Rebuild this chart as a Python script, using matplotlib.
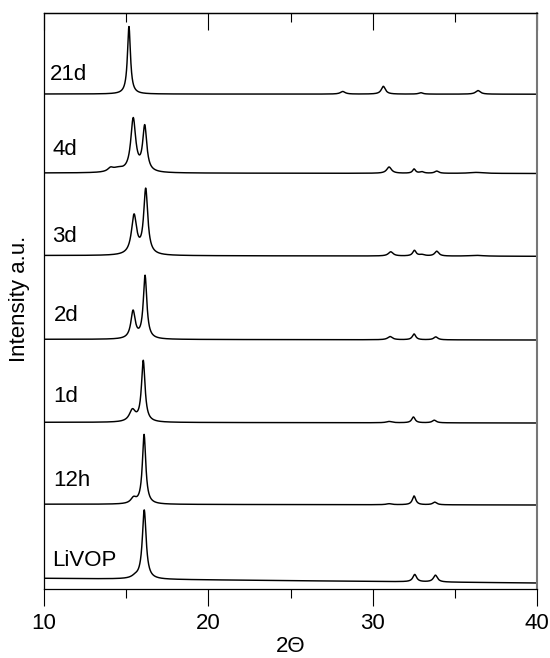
import numpy as np
import matplotlib
matplotlib.use("Agg")
import matplotlib.pyplot as plt
from matplotlib.ticker import MultipleLocator

plt.rcParams['font.family'] = ['Liberation Sans', 'DejaVu Sans']

# ---- data ----
labels = ["LiVOP", "12h", "1d", "2d", "3d", "4d", "21d"]
# baseline level of each trace (left end, right end), in plot intensity units
base_left = [10.5, 84.6, 166.5, 249.5, 333.3, 415.8, 494.8]
base_right = [5.8, 83.8, 165.8, 248.8, 332.5, 415.3, 494.6]
# peaks per trace: (2theta position, height, FWHM)
peaks = {
    "LiVOP": [(16.10, 69.0, 0.28), (15.55, 2.0, 0.5), (32.56, 7.3, 0.28), (33.82, 6.8, 0.30)],
    "12h":   [(16.09, 69.5, 0.25), (15.45, 5.5, 0.40), (31.00, 1.0, 0.40),
              (32.52, 8.8, 0.25), (33.78, 2.6, 0.30)],
    "1d":    [(16.04, 61.0, 0.26), (15.38, 11.5, 0.45), (31.00, 1.3, 0.40),
              (32.48, 5.8, 0.25), (33.75, 2.6, 0.30)],
    "2d":    [(15.42, 27.5, 0.32), (16.15, 63.0, 0.26), (31.06, 3.2, 0.35),
              (32.52, 5.8, 0.25), (33.84, 2.9, 0.30)],
    "3d":    [(15.48, 39.0, 0.38), (16.19, 65.0, 0.30), (31.10, 4.2, 0.35),
              (32.54, 5.5, 0.25), (33.00, 1.3, 0.40), (33.90, 4.8, 0.30), (36.30, 0.8, 1.0)],
    "4d":    [(14.05, 3.5, 0.40), (14.50, 3.5, 0.80), (15.43, 53.0, 0.36),
              (16.13, 45.0, 0.30), (31.00, 6.3, 0.35), (32.52, 4.2, 0.22),
              (32.99, 1.5, 0.30), (33.90, 2.2, 0.30), (36.30, 1.0, 1.0)],
    "21d":   [(15.17, 67.5, 0.22), (28.18, 2.6, 0.35), (30.65, 7.8, 0.30),
              (32.93, 1.4, 0.30), (36.41, 3.6, 0.35)],
}
x_ticks = [10, 20, 30, 40]
x_label = "2\u0398"
y_label = "Intensity a.u."

# ---- layout ----
label_pos = {  # (x, baseline y) of each trace label
    "21d": (10.37, 508.8), "4d": (10.53, 433.8), "3d": (10.47, 346.8),
    "2d": (10.6, 267.8), "1d": (10.55, 186.8), "12h": (10.55, 102.8),
    "LiVOP": (10.47, 23.1),
}

fig = plt.figure(figsize=(5.5, 6.58), dpi=100)
ax = fig.add_axes([44 / 550, 69.2 / 658, 493 / 550, 575.8 / 658])

x = np.linspace(10, 40, 3001)
for i, name in enumerate(labels):
    y = base_left[i] + (base_right[i] - base_left[i]) * (x - 10) / 30.0
    for (p, h, w) in peaks[name]:
        hw = w / 2.0
        y = y + h / (1.0 + ((x - p) / hw) ** 2)
    ax.plot(x, y, color='black', lw=1.05)
    lx, ly = label_pos[name]
    ax.text(lx, ly, name, fontsize=16, ha='left', va='baseline')

ax.set_xlim(10, 40)
ax.set_ylim(0, 575.8)
ax.set_yticks([])
ax.xaxis.set_major_locator(MultipleLocator(10))
ax.xaxis.set_minor_locator(MultipleLocator(5))
ax.set_xticks(x_ticks)
ax.tick_params(axis='x', which='major', direction='out', length=12.2, width=0.8,
               labelsize=16, pad=5.0, top=False)
ax.tick_params(axis='x', which='minor', direction='out', length=6.3, width=0.8, top=False)
ax.set_xlabel(x_label, fontsize=16, labelpad=2)

for s in ['left', 'top', 'bottom']:
    ax.spines[s].set_linewidth(0.9)
ax.spines['right'].set_color('#777777')
ax.spines['right'].set_linewidth(1.5)

top = ax.secondary_xaxis('top')
top.xaxis.set_major_locator(MultipleLocator(10))
top.xaxis.set_minor_locator(MultipleLocator(5))
top.tick_params(axis='x', which='major', direction='in', length=12.2, width=0.8, labeltop=False)
top.tick_params(axis='x', which='minor', direction='in', length=6.3, width=0.8)
top.spines['top'].set_linewidth(0.9)

fig.text(20 / 550, 1 - 298.5 / 658, y_label, rotation=90, fontsize=16,
         ha='center', va='center')

fig.savefig("out.png", dpi=100)
